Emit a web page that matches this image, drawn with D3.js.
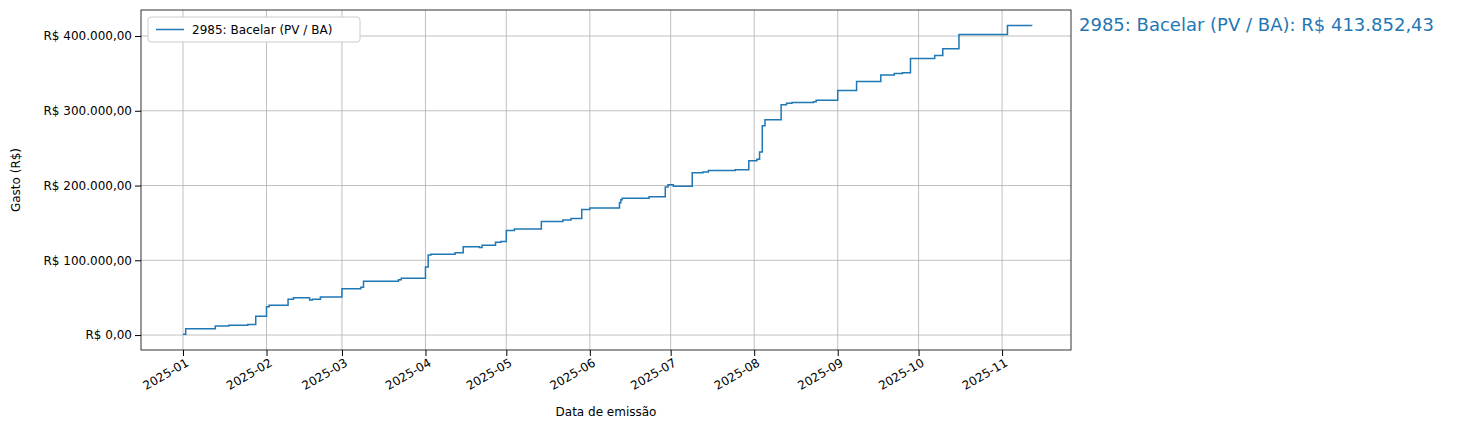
<!DOCTYPE html>
<html><head><meta charset="utf-8">
<script src="https://cdn.jsdelivr.net/npm/d3@7"></script>
<style>body{margin:0;background:#fff}text{font-family:"DejaVu Sans",sans-serif}</style>
</head><body><svg id="chart" width="1473" height="430"></svg>
<script>
const seriesName = "2985: Bacelar (PV / BA)";
const dates = ["2025-01-01","2025-01-02","2025-01-13","2025-01-18","2025-01-25","2025-01-28","2025-02-01","2025-02-02","2025-02-09","2025-02-11","2025-02-17","2025-02-18","2025-02-21","2025-03-01","2025-03-08","2025-03-09","2025-03-22","2025-03-23","2025-04-01","2025-04-02","2025-04-03","2025-04-12","2025-04-15","2025-04-21","2025-04-22","2025-04-27","2025-04-29","2025-05-01","2025-05-04","2025-05-14","2025-05-22","2025-05-25","2025-05-29","2025-06-01","2025-06-12","2025-06-12T12","2025-06-13","2025-06-23","2025-06-29","2025-06-30","2025-07-02","2025-07-09","2025-07-13","2025-07-15","2025-07-25","2025-07-30","2025-08-02","2025-08-03","2025-08-04","2025-08-05","2025-08-11","2025-08-13","2025-08-15","2025-08-23","2025-08-24","2025-09-01","2025-09-08","2025-09-17","2025-09-22","2025-09-25","2025-09-28","2025-10-07","2025-10-10","2025-10-16","2025-11-03","2025-11-12"];
const values = [1,8.5,12,13,14,25,38,40,48,50,47,48,51,62,64,72,74,76,91,107,108,110,118,117,120,124,125,140,142,152,154,156,168,170,177,181,183,185,198,201,199,217,218,220,221,233,235,245,280,288,308,310,311,312,314,327,339,348,350,351,370,374,383,402,414,413.852].map(v => v * 1000);
const finalLabel = "2985: Bacelar (PV / BA): R$ 413.852,43";

const data = dates.map((d, i) => ({date: new Date(d.length > 10 ? d + ":00" : d + "T00:00"), value: values[i]}));
const svg = d3.select("#chart");
const m = {l: 141, r: 1071, t: 10, b: 350};
const x = d3.scaleTime().domain([new Date(2024, 11, 16, 10), new Date(2025, 10, 26, 14)]).range([m.l, m.r]);
const y = d3.scaleLinear().domain([-20000, 434800]).range([m.b, m.t]);
const fmt = v => "R$ " + d3.format(",.2f")(v).replace(/,/g, "#").replace(".", ",").replace(/#/g, ".");
const months = d3.range(0, 11).map(i => new Date(2025, i, 1));

svg.append("g").attr("stroke", "#b0b0b0").attr("stroke-width", 0.8)
  .call(g => g.selectAll(".vx").data(months).join("line").attr("x1", d => x(d)).attr("x2", d => x(d)).attr("y1", m.t).attr("y2", m.b))
  .call(g => g.selectAll(".hy").data(d3.range(0, 400001, 100000)).join("line").attr("x1", m.l).attr("x2", m.r).attr("y1", d => y(d)).attr("y2", d => y(d)));

const xa = svg.append("g").attr("transform", `translate(0,${m.b})`)
  .call(d3.axisBottom(x).tickValues(months).tickFormat(d3.timeFormat("%Y-%m")).tickSizeOuter(0));
xa.selectAll("text").attr("font-size", 12).attr("fill", "#000").attr("text-anchor", "end")
  .attr("transform", "rotate(-30)").attr("dx", "-0.2em").attr("dy", "0.6em");
const ya = svg.append("g").attr("transform", `translate(${m.l},0)`)
  .call(d3.axisLeft(y).tickValues(d3.range(0, 400001, 100000)).tickFormat(fmt).tickSizeOuter(0));
ya.selectAll("text").attr("font-size", 12).attr("fill", "#000");
svg.selectAll(".domain").remove();
svg.append("rect").attr("x", m.l).attr("y", m.t).attr("width", m.r - m.l).attr("height", m.b - m.t)
  .attr("fill", "none").attr("stroke", "#000").attr("stroke-width", 0.8);

svg.append("path").datum(data).attr("fill", "none").attr("stroke", "#1f77b4").attr("stroke-width", 1.5)
  .attr("d", d3.line().x(d => x(d.date)).y(d => y(d.value)).curve(d3.curveStepAfter));

svg.append("text").attr("x", 1079).attr("y", 31).attr("font-size", 18).attr("fill", "#1f77b4").text(finalLabel);

const lg = svg.append("g").attr("transform", "translate(148,17)");
lg.append("rect").attr("width", 212).attr("height", 25).attr("rx", 3).attr("fill", "#fff").attr("stroke", "#ccc");
lg.append("line").attr("x1", 8).attr("x2", 36).attr("y1", 12.5).attr("y2", 12.5).attr("stroke", "#1f77b4").attr("stroke-width", 1.5);
lg.append("text").attr("x", 44).attr("y", 17).attr("font-size", 12).text(seriesName);

svg.append("text").attr("x", 606).attr("y", 416).attr("text-anchor", "middle").attr("font-size", 12).text("Data de emissão");
svg.append("text").attr("transform", "translate(20,180) rotate(-90)").attr("text-anchor", "middle").attr("font-size", 12).text("Gasto (R$)");
</script></body></html>
